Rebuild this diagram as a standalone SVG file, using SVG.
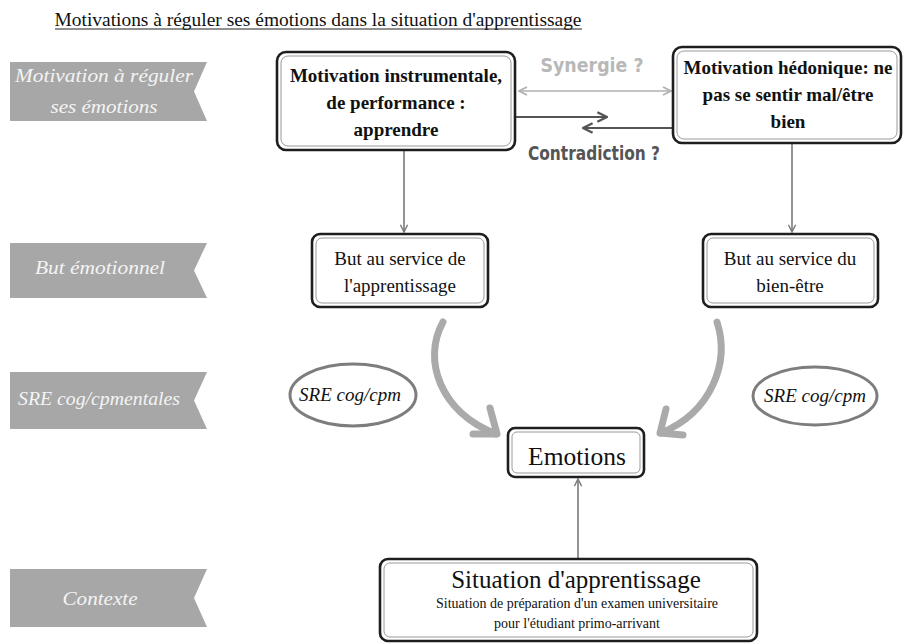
<svg xmlns="http://www.w3.org/2000/svg" width="905" height="644" viewBox="0 0 905 644">
  <defs>
    <style>
      .banner { fill: #a7a7a7; }
      .btext { font-family: "Liberation Serif", "Times New Roman", serif; font-style: italic; font-size: 19px; fill: #f4f4f4; text-anchor: middle; }
      .outer { fill: #fff; stroke: #1e1e1e; stroke-width: 2.6; }
      .inner { fill: none; stroke: #9a9a9a; stroke-width: 1; }
      .serif { font-family: "Liberation Serif", "Times New Roman", serif; fill: #111; text-anchor: middle; }
      .bold { font-weight: bold; font-size: 19px; }
      .reg { font-size: 19px; }
      .cond { font-family: "DejaVu Sans Condensed", "DejaVu Sans", sans-serif; font-stretch: condensed; font-weight: bold; }
      .ell { fill: #fff; stroke: #7d7d7d; stroke-width: 3; }
      .sre { font-family: "Liberation Serif", "Times New Roman", serif; font-style: italic; font-size: 19px; fill: #111; text-anchor: middle; }
      .thin { fill: none; stroke: #7a7a7a; stroke-width: 1.6; }
      .big { fill: none; stroke: #aaaaaa; stroke-width: 7; stroke-linecap: round; stroke-linejoin: round; }
    </style>
    <marker id="head-gray" viewBox="0 0 10 10" refX="9" refY="5" markerWidth="9" markerHeight="9" markerUnits="userSpaceOnUse" orient="auto-start-reverse">
      <path d="M1,1 L9,5 L1,9" fill="none" stroke="#7a7a7a" stroke-width="1.6"/>
    </marker>
    <marker id="head-light" viewBox="0 0 10 10" refX="9" refY="5" markerWidth="10" markerHeight="10" markerUnits="userSpaceOnUse" orient="auto-start-reverse">
      <path d="M1,1 L9,5 L1,9" fill="none" stroke="#b0b0b0" stroke-width="1.6"/>
    </marker>
    <marker id="head-dark" viewBox="0 0 10 10" refX="9" refY="5" markerWidth="12" markerHeight="12" markerUnits="userSpaceOnUse" orient="auto-start-reverse">
      <path d="M1,1 L9,5 L1,9" fill="none" stroke="#555" stroke-width="2"/>
    </marker>
  </defs>

  <rect width="905" height="644" fill="#fff"/>

  <!-- title -->
  <g id="title">
    <text x="318" y="26" class="serif" font-size="18" textLength="527" lengthAdjust="spacingAndGlyphs">Motivations à réguler ses émotions dans la situation d'apprentissage</text>
    <line x1="55" y1="29" x2="582" y2="29" stroke="#222" stroke-width="1"/>
  </g>

  <!-- side ribbons -->
  <g id="ribbon-motivation">
    <path class="banner" d="M10,62 H207 L194,91.5 L207,121 H10 Z"/>
    <text x="104" y="82" class="btext" textLength="178" lengthAdjust="spacingAndGlyphs">Motivation à réguler</text>
    <text x="104" y="113" class="btext" textLength="107" lengthAdjust="spacingAndGlyphs">ses émotions</text>
  </g>
  <g id="ribbon-but">
    <path class="banner" d="M10,243 H207 L194,270.5 L207,298 H10 Z"/>
    <text x="100" y="274" class="btext" textLength="130" lengthAdjust="spacingAndGlyphs">But émotionnel</text>
  </g>
  <g id="ribbon-sre">
    <path class="banner" d="M10,372 H207 L194,400.5 L207,429 H10 Z"/>
    <text x="99" y="405" class="btext" textLength="162" lengthAdjust="spacingAndGlyphs">SRE cog/cpmentales</text>
  </g>
  <g id="ribbon-contexte">
    <path class="banner" d="M10,569 H207 L194,598 L207,627 H10 Z"/>
    <text x="100" y="605" class="btext" textLength="75" lengthAdjust="spacingAndGlyphs">Contexte</text>
  </g>

  <!-- connectors -->
  <g id="connectors">
    <line class="thin" x1="404" y1="151" x2="404" y2="232" marker-end="url(#head-gray)"/>
    <line class="thin" x1="792" y1="144" x2="792" y2="232" marker-end="url(#head-gray)"/>
    <line x1="519" y1="91" x2="671" y2="91" stroke="#b0b0b0" stroke-width="1.6" marker-start="url(#head-light)" marker-end="url(#head-light)"/>
    <line x1="516" y1="117" x2="607" y2="117" stroke="#555" stroke-width="2" marker-end="url(#head-dark)"/>
    <line x1="672" y1="128" x2="583" y2="128" stroke="#555" stroke-width="2" marker-end="url(#head-dark)"/>
    <text x="592" y="72" class="cond" font-size="19" fill="#b8b8b8" text-anchor="middle" textLength="103" lengthAdjust="spacingAndGlyphs">Synergie ?</text>
    <text x="594" y="160" class="cond" font-size="19" fill="#555" text-anchor="middle" textLength="132" lengthAdjust="spacingAndGlyphs">Contradiction ?</text>
    <path class="big" d="M443,322 C422,360 440,412 496,434"/>
    <path class="big" d="M490,408 L497,434 L473,434"/>
    <path class="big" d="M717,322 C730,362 712,412 661,433"/>
    <path class="big" d="M666,409 L660,433 L683,435"/>
    <line class="thin" x1="578" y1="558" x2="578" y2="479" marker-end="url(#head-gray)"/>
  </g>

  <!-- motivation boxes -->
  <g id="box-instrumentale">
    <rect class="outer" x="277" y="52" width="238" height="98" rx="9"/>
    <rect class="inner" x="281" y="56" width="230" height="90" rx="7"/>
    <text x="396" y="82" class="serif bold">Motivation instrumentale,</text>
    <text x="396" y="109" class="serif bold">de performance :</text>
    <text x="396" y="136" class="serif bold">apprendre</text>
  </g>
  <g id="box-hedonique">
    <rect class="outer" x="673" y="47" width="228" height="96" rx="9"/>
    <rect class="inner" x="677" y="51" width="220" height="88" rx="7"/>
    <text x="788" y="74" class="serif bold">Motivation hédonique: ne</text>
    <text x="788" y="101" class="serif bold">pas se sentir mal/être</text>
    <text x="788" y="128" class="serif bold">bien</text>
  </g>

  <!-- goal boxes -->
  <g id="but-apprentissage">
    <rect class="outer" x="312" y="234" width="176" height="73" rx="8"/>
    <rect class="inner" x="316" y="238" width="168" height="65" rx="6"/>
    <text x="400" y="265" class="serif reg">But au service de</text>
    <text x="400" y="292" class="serif reg">l'apprentissage</text>
  </g>
  <g id="but-bien-etre">
    <rect class="outer" x="703" y="234" width="175" height="73" rx="8"/>
    <rect class="inner" x="707" y="238" width="167" height="65" rx="6"/>
    <text x="790" y="265" class="serif reg">But au service du</text>
    <text x="790" y="292" class="serif reg">bien-être</text>
  </g>

  <!-- strategy ellipses -->
  <g id="sre-gauche">
    <ellipse class="ell" cx="353" cy="395" rx="63" ry="31"/>
    <text x="350" y="401" class="sre">SRE cog/cpm</text>
  </g>
  <g id="sre-droite">
    <ellipse class="ell" cx="815" cy="396" rx="62" ry="29"/>
    <text x="815" y="402" class="sre">SRE cog/cpm</text>
  </g>

  <!-- emotions -->
  <g id="emotions">
    <rect class="outer" x="508" y="428" width="136" height="49" rx="7"/>
    <rect class="inner" x="512" y="432" width="128" height="41" rx="5"/>
    <text x="577" y="465" class="serif" font-size="25.5">Emotions</text>
  </g>

  <!-- context -->
  <g id="situation">
    <rect class="outer" x="380" y="559" width="377" height="82" rx="8"/>
    <rect class="inner" x="384" y="563" width="369" height="74" rx="6"/>
    <text x="576" y="588" class="serif" font-size="25">Situation d'apprentissage</text>
    <text x="577" y="608" class="serif" font-size="14">Situation de préparation d'un examen universitaire</text>
    <text x="577" y="628" class="serif" font-size="14">pour l'étudiant primo-arrivant</text>
  </g>
</svg>
